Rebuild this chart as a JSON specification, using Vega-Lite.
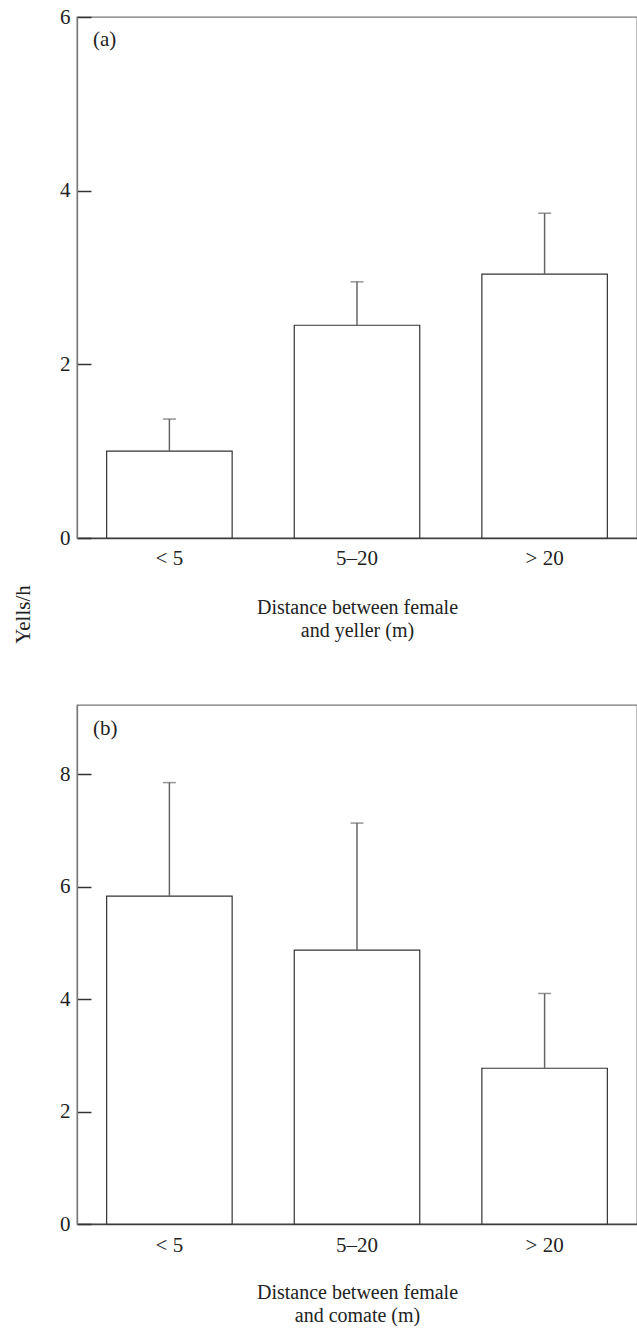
{
  "$schema": "https://vega.github.io/schema/vega-lite/v6.json",
  "padding": {"left": 11, "top": 5, "right": 0, "bottom": 0},
  "background": "white",
  "bounds": "flush",
  "spacing": 167,
  "datasets": {
    "a": [
      {"dist": "< 5", "mean": 1.0, "upper": 1.37},
      {"dist": "5–20", "mean": 2.45, "upper": 2.95},
      {"dist": "> 20", "mean": 3.04, "upper": 3.74}
    ],
    "b": [
      {"dist": "< 5", "mean": 5.83, "upper": 7.85},
      {"dist": "5–20", "mean": 4.87, "upper": 7.13},
      {"dist": "> 20", "mean": 2.77, "upper": 4.1}
    ]
  },
  "config": {
    "font": "Liberation Serif",
    "view": {"stroke": "#777", "strokeWidth": 1.3},
    "axis": {
      "labelFont": "Liberation Serif",
      "titleFont": "Liberation Serif",
      "labelFontSize": 21,
      "titleFontSize": 21,
      "titleFontWeight": "normal",
      "labelColor": "#222",
      "titleColor": "#222",
      "grid": false
    },
    "title": {"font": "Liberation Serif", "fontSize": 21, "fontWeight": "normal", "color": "#222"}
  },
  "vconcat": [
    {
      "width": 560,
      "height": 521,
      "data": {"name": "a"},
      "title": {"text": "(a)", "anchor": "start", "frame": "group", "orient": "top", "offset": -44, "baseline": "top", "dx": 16},
      "encoding": {
        "x": {
          "field": "dist", "type": "nominal", "sort": null,
          "scale": {"paddingInner": 0.331, "paddingOuter": 0.158},
          "axis": {
            "labelAngle": 0, "ticks": false, "domainColor": "#444", "domainWidth": 1.3,
            "labelPadding": 9, "titlePadding": 29, "titleLineHeight": 23, "titleFontSize": 20,
            "title": ["Distance between female", "and yeller (m)"]
          }
        }
      },
      "layer": [
        {
          "mark": {"type": "bar", "fill": "white", "stroke": "#333", "strokeWidth": 1.2},
          "encoding": {
            "y": {
              "field": "mean", "type": "quantitative",
              "scale": {"domain": [0, 6], "nice": false},
              "axis": {
                "values": [0, 2, 4, 6], "format": "d", "tickSize": -14, "tickColor": "#333", "tickWidth": 1.5,
                "domainColor": "#777", "domainWidth": 1.3, "labelPadding": 21,
                "title": "Yells/h", "titleX": -44, "titleY": 597, "titleAngle": -90
              }
            }
          }
        },
        {
          "mark": {"type": "rule", "color": "#666", "strokeWidth": 1.5},
          "encoding": {"y": {"field": "mean", "type": "quantitative"}, "y2": {"field": "upper"}}
        },
        {
          "mark": {"type": "tick", "color": "#666", "size": 13, "thickness": 1.5, "orient": "horizontal"},
          "encoding": {"y": {"field": "upper", "type": "quantitative"}}
        }
      ]
    },
    {
      "width": 560,
      "height": 519,
      "data": {"name": "b"},
      "title": {"text": "(b)", "anchor": "start", "frame": "group", "orient": "top", "offset": -34, "baseline": "top", "dx": 16},
      "encoding": {
        "x": {
          "field": "dist", "type": "nominal", "sort": null,
          "scale": {"paddingInner": 0.331, "paddingOuter": 0.158},
          "axis": {
            "labelAngle": 0, "ticks": false, "domainColor": "#444", "domainWidth": 1.3,
            "labelPadding": 10, "titlePadding": 27, "titleLineHeight": 23, "titleFontSize": 20,
            "title": ["Distance between female", "and comate (m)"]
          }
        }
      },
      "layer": [
        {
          "mark": {"type": "bar", "fill": "white", "stroke": "#333", "strokeWidth": 1.2},
          "encoding": {
            "y": {
              "field": "mean", "type": "quantitative",
              "scale": {"domain": [0, 9.23], "nice": false},
              "axis": {
                "values": [0, 2, 4, 6, 8], "format": "d", "tickSize": -14, "tickColor": "#333", "tickWidth": 1.5,
                "domainColor": "#777", "domainWidth": 1.3, "labelPadding": 21,
                "title": null
              }
            }
          }
        },
        {
          "mark": {"type": "rule", "color": "#666", "strokeWidth": 1.5},
          "encoding": {"y": {"field": "mean", "type": "quantitative"}, "y2": {"field": "upper"}}
        },
        {
          "mark": {"type": "tick", "color": "#666", "size": 13, "thickness": 1.5, "orient": "horizontal"},
          "encoding": {"y": {"field": "upper", "type": "quantitative"}}
        }
      ]
    }
  ]
}
